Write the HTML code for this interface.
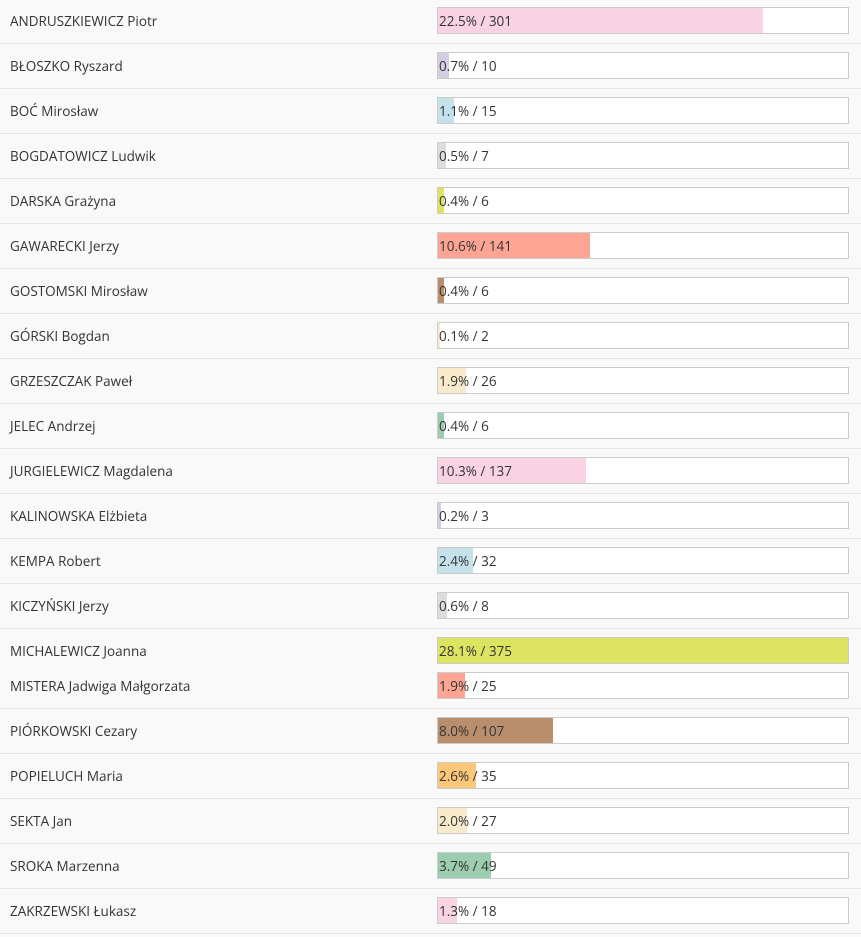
<!DOCTYPE html>
<html><head><meta charset="utf-8"><style>
body{margin:0;width:861px;height:937px;background:#f9f9f9;font-family:"Open Sans","Liberation Sans",sans-serif;font-size:13.5px;color:#333;position:relative;overflow:hidden}
.r{position:absolute;left:0;width:861px}
.sep{border-bottom:1px solid #e6e6e6}
.l{position:absolute;left:10px}
.b{position:absolute;left:437px;width:410px;height:25px;border:1px solid #ccc;background:#fff}
.f{position:absolute;left:0;top:0;height:25px}
.t{position:absolute;left:1px;top:4px;color:#333}
</style></head><body>
<div id="c"></div>
<script>
var d=[["ANDRUSZKIEWICZ Piotr","22.5%",301,"#f9d3e3"],["BŁOSZKO Ryszard","0.7%",10,"#d5cde3"],["BOĆ Mirosław","1.1%",15,"#c5e2ea"],["BOGDATOWICZ Ludwik","0.5%",7,"#dddddd"],["DARSKA Grażyna","0.4%",6,"#dde462"],["GAWARECKI Jerzy","10.6%",141,"#fca594"],["GOSTOMSKI Mirosław","0.4%",6,"#b98e6d"],["GÓRSKI Bogdan","0.1%",2,"#f8ebcc"],["GRZESZCZAK Paweł","1.9%",26,"#f8ebcc"],["JELEC Andrzej","0.4%",6,"#9ccdb0"],["JURGIELEWICZ Magdalena","10.3%",137,"#f9d3e3"],["KALINOWSKA Elżbieta","0.2%",3,"#d5cde3"],["KEMPA Robert","2.4%",32,"#c5e2ea"],["KICZYŃSKI Jerzy","0.6%",8,"#dddddd"],["MICHALEWICZ Joanna","28.1%",375,"#dde462"],["MISTERA Jadwiga Małgorzata","1.9%",25,"#fca594"],["PIÓRKOWSKI Cezary","8.0%",107,"#b98e6d"],["POPIELUCH Maria","2.6%",35,"#fcc77a"],["SEKTA Jan","2.0%",27,"#f8ebcc"],["SROKA Marzenna","3.7%",49,"#9ccdb0"],["ZAKRZEWSKI Łukasz","1.3%",18,"#f9d3e3"]];
var h="";
d.forEach(function(r,i){
 var top=i<15?45*i:(i==15?665:710+45*(i-16));
 var hh=(i==14)?35:43;
 var sep=(i==14)?"":" sep";
 var w=(i==14)?410:Math.round(r[2]/380*410);
 h+='<div class="r'+sep+'" style="top:'+top+'px;height:'+hh+'px">'+
 '<div class="l" style="top:12px">'+r[0]+'</div>'+
 '<div class="b" style="top:7px"><div class="f" style="width:'+w+'px;background:'+r[3]+'"></div><div class="t">'+r[1]+' / '+r[2]+'</div></div></div>';
});
document.getElementById("c").innerHTML=h;
</script>
</body></html>
